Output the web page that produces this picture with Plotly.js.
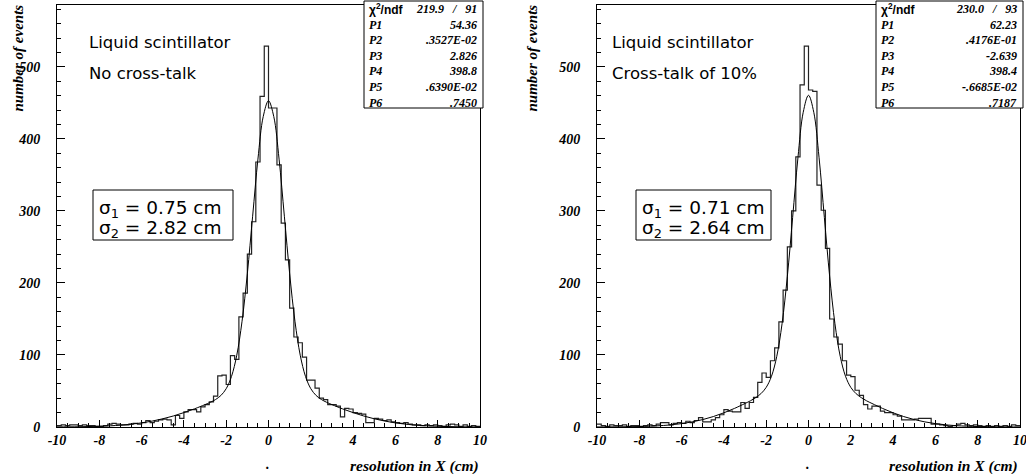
<!DOCTYPE html>
<html>
<head>
<meta charset="utf-8">
<script src="https://cdn.plot.ly/plotly-3.0.1.min.js"></script>
<style>html,body{margin:0;padding:0;background:#fff;}#chart{width:1026px;height:474px;}</style>
</head>
<body>
<div id="chart"></div>
<script>
// ---------- data ----------
const xMin = -10;
const binWidth = 0.2;

// left panel: no cross-talk (bin centres -9.9 ... 9.9)
const countsNoXtalk = [
  2,3,2,3,3,2,3,2,2,1,
  1,2,4,5,4,3,3,4,5,4,
  6,9,6,8,10,11,10,3,16,12,
  21,24,24,21,28,31,35,43,71,72,
  59,99,94,153,186,240,285,368,459,529,
  443,443,364,283,232,165,125,117,97,65,
  65,54,40,38,31,31,29,14,26,25,
  20,19,18,6,6,12,11,9,10,7,
  6,5,6,4,3,3,2,3,2,3,
  2,1,3,4,3,1,3,1,2,1
];
// right panel: cross-talk of 10%
const countsXtalk10 = [
  4,2,1,3,2,2,3,1,2,2,
  1,2,3,2,4,6,6,3,5,6,
  5,8,6,9,13,7,7,10,13,17,
  24,22,21,21,34,26,34,41,62,75,
  69,92,110,146,190,250,300,375,475,529,
  468,466,336,301,248,150,125,115,92,72,
  70,51,44,31,25,29,29,22,20,20,
  17,15,10,10,10,11,12,12,12,4,
  4,3,2,1,2,4,5,3,2,3,
  2,1,2,1,2,1,2,1,3,2
];

// fitted curves
const fitX = [-10,-9,-8,-7,-6.5,-6,-5.5,-5,-4.5,-4,-3.5,-3,-2.75,-2.5,-2.25,-2,-1.75,-1.5,-1.25,-1,-0.75,-0.5,-0.25,0,
              0.25,0.5,0.75,1,1.25,1.5,1.75,2,2.25,2.5,2.75,3,3.5,4,4.5,5,5.5,6,6.5,7,8,9,10];
const fitNoXtalk = [0.1,0.3,1.0,2.5,3.9,5.7,8.2,11.4,15.3,20.0,25.2,31.1,34.3,38.2,43.8,53.2,70.2,99.7,146.9,213,292.7,372,431,453,
              431,372,292.7,213,146.9,99.7,70.2,53.2,43.8,38.2,34.3,31.1,25.2,20.0,15.3,11.4,8.2,5.7,3.9,2.5,1.0,0.3,0.1];
const fitXtalk10 = [0.05,0.19,0.63,1.85,3.0,4.7,7.1,10.3,14.5,19.7,25.8,32.7,36.3,40.7,46.3,55.0,70.5,98.1,143.4,209.2,290.9,373.8,437,460.6,
              437,373.8,290.9,209.2,143.4,98.1,70.5,55.0,46.3,40.7,36.3,32.7,25.8,19.7,14.5,10.3,7.1,4.7,3.0,1.85,0.63,0.19,0.05];

const xTickVals = [-10,-8,-6,-4,-2,0,2,4,6,8,10];
const xTickText = ["-10","-8","-6","-4","-2","0","2","4","6","8","10"];
const yTickVals = [0,100,200,300,400,500];
const yTickText = ["0","100","200","300","400","500"];

const statLabels = ["P1","P2","P3","P4","P5","P6"];
const chiNoXtalk = "219.9\u00a0\u00a0\u00a0/\u00a0\u00a0\u00a091";
const parsNoXtalk = ["54.36",".3527E-02","2.826","398.8",".6390E-02",".7450"];
const chiXtalk10 = "230.0\u00a0\u00a0\u00a0/\u00a0\u00a0\u00a093";
const parsXtalk10 = ["62.23",".4176E-01","-2.639","398.4","-.6685E-02",".7187"];

const labelNoXtalk = ["Liquid scintillator","No cross-talk"];
const labelXtalk10 = ["Liquid scintillator","Cross-talk of 10%"];
const sigmaNoXtalk = ["0.75","2.82"];
const sigmaXtalk10 = ["0.71","2.64"];

// ---------- helpers ----------
const W = 1026, H = 474;
const px = v => v / W;
const py = v => 1 - v / H;

function stepTrace(counts, xa, ya) {
  const xs = counts.map((_, i) => xMin + i * binWidth);
  xs.push(xMin + counts.length * binWidth);
  const ys = counts.slice(); ys.push(counts[counts.length - 1]);
  return {x: xs, y: ys, type: 'scatter', mode: 'lines', line: {shape: 'hv', color: '#222', width: 1.2},
          xaxis: xa, yaxis: ya, hoverinfo: 'skip', showlegend: false};
}
function fitTrace(ys, xa, ya) {
  return {x: fitX, y: ys, type: 'scatter', mode: 'lines', line: {shape: 'spline', smoothing: 1, color: '#000', width: 1},
          xaxis: xa, yaxis: ya, hoverinfo: 'skip', showlegend: false};
}

const tickFont = {family: 'Liberation Serif', size: 14, color: '#000', weight: 'bold', style: 'italic'};
function xAxis(domain, anchor) {
  return {domain: domain, anchor: anchor, range: [-10, 10], showgrid: false, zeroline: false,
          showline: true, linecolor: '#000', linewidth: 1, mirror: true,
          ticks: 'inside', ticklen: 7, tickwidth: 1, tickcolor: '#000', ticklabeloverflow: 'allow',
          tickmode: 'array', tickvals: xTickVals, ticktext: xTickText, tickfont: tickFont,
          minor: {dtick: 0.5, ticks: 'inside', ticklen: 4, tickcolor: '#000', showgrid: false}};
}
function yAxis(anchor) {
  return {domain: [py(427), py(5)], anchor: anchor, range: [0, 586], showgrid: false, zeroline: false,
          showline: true, linecolor: '#000', linewidth: 1, mirror: true,
          ticks: 'inside', ticklen: 8, tickwidth: 1, tickcolor: '#000',
          tickmode: 'array', tickvals: yTickVals, ticktext: yTickText, tickfont: tickFont, ticklabelstandoff: 13,
          minor: {dtick: 20, ticks: 'inside', ticklen: 4, tickcolor: '#000', showgrid: false}};
}

const annotations = [];
const shapes = [];
function ann(x, y, text, opts) {
  annotations.push(Object.assign({xref: 'paper', yref: 'paper', x: px(x), y: py(y), text: text, showarrow: false,
    xanchor: 'left', yanchor: 'middle'}, opts || {}));
}
const serifBI = (s) => ({family: 'Liberation Serif', size: s, color: '#000', weight: 'bold', style: 'italic'});
const sans = (s) => ({family: 'DejaVu Sans', size: s, color: '#000'});

function panel(p) {
  // axis titles
  ann(p.ytitleX, 3, 'number of events', {textangle: -90, xanchor: 'center', yanchor: 'top', font: serifBI(15)});
  ann(p.plotR, 466, 'resolution in X (cm)', {xanchor: 'right', font: serifBI(15.5)});
  ann(p.dotX, 464, '.', {xanchor: 'center', font: serifBI(14)});
  // stats box
  shapes.push({type: 'rect', xref: 'paper', yref: 'paper', x0: px(p.boxL), x1: px(p.boxR), y0: py(108), y1: py(1),
               line: {color: '#000', width: 1}, fillcolor: '#fff', layer: 'above'});
  const rowH = 15.6;
  ann(p.boxL + 3, 9, 'χ<sup>2</sup>/ndf', {font: {family: 'Liberation Sans', size: 12, color: '#000', weight: 'bold'}});
  ann(p.boxR - 4, 9, p.chi, {xanchor: 'right', font: serifBI(12)});
  for (let i = 0; i < statLabels.length; i++) {
    const y = 9 + rowH * (i + 1);
    ann(p.boxL + 3, y, statLabels[i], {font: serifBI(12)});
    ann(p.boxR - 4, y, p.pars[i], {xanchor: 'right', font: serifBI(12)});
  }
  // labels
  ann(p.textX, 42, p.label[0], {font: sans(16.5)});
  ann(p.textX, 73, p.label[1], {font: sans(16.5)});
  // sigma box
  shapes.push({type: 'rect', xref: 'paper', yref: 'paper', x0: px(p.sigL), x1: px(p.sigR), y0: py(240), y1: py(190),
               line: {color: '#000', width: 1}});
  ann(p.sigL + 4, 209, 'σ<sub>1</sub> = ' + p.sig[0] + ' cm', {font: sans(18.5)});
  ann(p.sigL + 4, 229, 'σ<sub>2</sub> = ' + p.sig[1] + ' cm', {font: sans(18.5)});
}

panel({ytitleX: 17, plotR: 481, dotX: 268, boxL: 364, boxR: 483, chi: chiNoXtalk, pars: parsNoXtalk,
       textX: 87, label: labelNoXtalk, sigL: 93, sigR: 233, sig: sigmaNoXtalk});
panel({ytitleX: 531, plotR: 1020, dotX: 808, boxL: 876, boxR: 1023, chi: chiXtalk10, pars: parsXtalk10,
       textX: 610, label: labelXtalk10, sigL: 636, sigR: 771, sig: sigmaXtalk10});

const data = [
  stepTrace(countsNoXtalk, 'x', 'y'), fitTrace(fitNoXtalk, 'x', 'y'),
  stepTrace(countsXtalk10, 'x2', 'y2'), fitTrace(fitXtalk10, 'x2', 'y2')
];

const layout = {
  width: W, height: H, autosize: false, margin: {l: 0, r: 0, t: 0, b: 0},
  paper_bgcolor: '#fff', plot_bgcolor: '#fff', showlegend: false,
  xaxis: xAxis([px(57), px(480)], 'y'), yaxis: yAxis('x'),
  xaxis2: xAxis([px(597), px(1020)], 'y2'), yaxis2: yAxis('x2'),
  annotations: annotations, shapes: shapes
};

Plotly.newPlot('chart', data, layout, {displayModeBar: false, staticPlot: true});
</script>
</body>
</html>
